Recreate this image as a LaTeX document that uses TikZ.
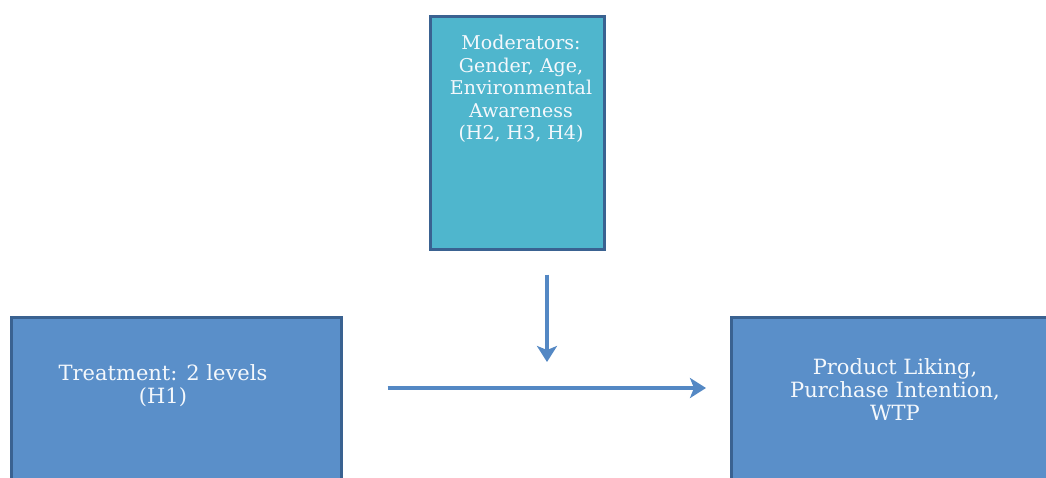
\documentclass[tikz,border=0pt]{standalone}
\usepackage{fontspec}
\setmainfont{DejaVu Serif}
\usetikzlibrary{arrows.meta,shadows}
\definecolor{tealfill}{RGB}{79,182,205}
\definecolor{bluefill}{RGB}{90,143,201}
\definecolor{boxedge}{RGB}{58,98,145}
\definecolor{arrowblue}{RGB}{84,136,196}
\definecolor{txt}{RGB}{244,248,252}
\begin{document}
\begin{tikzpicture}[x=1pt,y=-1pt,
  modbox/.style={draw=boxedge,line width=2.5pt,fill=tealfill,anchor=north west,inner sep=0pt,
    drop shadow={shadow xshift=2pt,shadow yshift=-2pt,opacity=0.35,fill=black}},
  bluebox/.style={modbox,fill=bluefill},
  lbl/.style={text=txt,align=center,font=\fontsize{21}{23}\selectfont,inner sep=0pt},
  arr/.style={draw=arrowblue,line width=4.5pt,-{Stealth[length=16pt,width=20pt,inset=4pt]}}]
\useasboundingbox (0,0) rectangle (1046,477);
\clip (0,0) rectangle (1046,477);
\fill[white] (0,0) rectangle (1046,477);
% boxes
\node[modbox,minimum width=174pt,minimum height=233pt] (mod) at (429,15) {};
\node[bluebox,minimum width=330pt,minimum height=180pt] (treat) at (10,316) {};
\node[bluebox,minimum width=330pt,minimum height=180pt] (out) at (730,316) {};
% labels
\node[lbl,font=\fontsize{19}{22.5}\selectfont] (modl) at (521,89) {Moderators:\\Gender, Age,\\Environmental\\Awareness\\(H2, H3, H4)};
\node[lbl] (treatl) at (163,386) {Treatment: 2 levels\\(H1)};
\node[lbl] (outl) at (895,390) {Product Liking,\\Purchase Intention,\\WTP};
% connectors
\coordinate (vend) at (547,362);
\coordinate (hy) at (0,388);
\draw[arr,shorten <=24pt] (mod.south -| vend) -- (vend);
\draw[arr,shorten <=45pt,shorten >=24pt] (treat.east |- hy) -- (out.west |- hy);
\end{tikzpicture}
\end{document}
